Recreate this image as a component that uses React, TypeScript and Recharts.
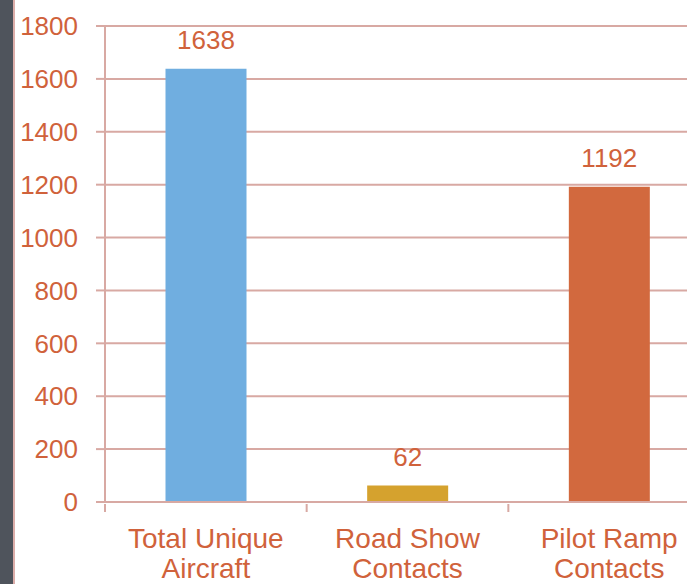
import React from 'react';
import { BarChart, Bar, XAxis, YAxis, CartesianGrid, Cell, LabelList } from 'recharts';

const categories = ['Total Unique Aircraft', 'Road Show Contacts', 'Pilot Ramp Contacts'];
const values = [1638, 62, 1192];
const barColors = ['#70aee0', '#d5a22e', '#d2693e'];
const yTicks = [0, 200, 400, 600, 800, 1000, 1200, 1400, 1600, 1800];

const data = categories.map((name, i) => ({ name, value: values[i] }));

const W = 715;
const H = 584;
const LEFT = 105;
const RIGHT = 5;
const TEXT = '#d0623b';
const GRID = '#d8a9a3';
const FONT = '"Liberation Sans", Arial, sans-serif';
const FS = 26;
const XFS = 28;
const BAND = (W - LEFT - RIGHT) / categories.length;

const XTick = (props: any) => {
  const { x, y, payload, index } = props;
  const words = String(payload.value).split(' ');
  const l1 = words.slice(0, words.length - 1).join(' ');
  const l2 = words[words.length - 1];
  const idx = payload.index ?? index ?? 0;
  return (
    <g>
      <line x1={x - BAND / 2} x2={x - BAND / 2} y1={y - 8} y2={y} stroke={GRID} strokeWidth={2} />
      {idx === categories.length - 1 && (
        <line x1={x + BAND / 2} x2={x + BAND / 2} y1={y - 8} y2={y} stroke={GRID} strokeWidth={2} />
      )}
      <text x={x} y={y + 36} textAnchor="middle" fill={TEXT} fontSize={XFS} fontFamily={FONT}>{l1}</text>
      <text x={x} y={y + 66} textAnchor="middle" fill={TEXT} fontSize={XFS} fontFamily={FONT}>{l2}</text>
    </g>
  );
};

export default function App() {
  return (
    <div style={{ position: 'absolute', left: 0, top: 0, width: 687, height: 584, overflow: 'hidden', background: '#fff' }}>
      <div style={{ position: 'absolute', left: 0, top: 0, width: 13, height: 584, background: '#4f545c' }} />
      <div style={{ position: 'absolute', left: 13, top: 0, width: 2, height: 584, background: '#dcaeaa' }} />
      <div style={{ position: 'absolute', left: 0, top: 0 }}>
        <BarChart width={W} height={H} data={data} margin={{ top: 26, right: RIGHT, bottom: 0, left: 0 }} barCategoryGap="30%">
          <CartesianGrid horizontal vertical={false} stroke={GRID} strokeWidth={2} />
          <XAxis
            dataKey="name"
            height={82}
            axisLine={{ stroke: GRID, strokeWidth: 2 }}
            tickLine={false}
            tick={<XTick />}
            tickSize={8}
            interval={0}
          />
          <YAxis
            width={LEFT}
            domain={[0, 1800]}
            ticks={yTicks}
            axisLine={{ stroke: GRID, strokeWidth: 2 }}
            tickLine={{ stroke: GRID, strokeWidth: 2 }}
            tickSize={9}
            tickMargin={18}
            tick={{ fill: TEXT, fontSize: FS, fontFamily: FONT }}
          />
          <Bar dataKey="value" isAnimationActive={false}>
            {data.map((d, i) => (
              <Cell key={d.name} fill={barColors[i]} />
            ))}
            <LabelList dataKey="value" position="top" offset={20} fill={TEXT} fontSize={FS} fontFamily={FONT} />
          </Bar>
        </BarChart>
      </div>
    </div>
  );
}
